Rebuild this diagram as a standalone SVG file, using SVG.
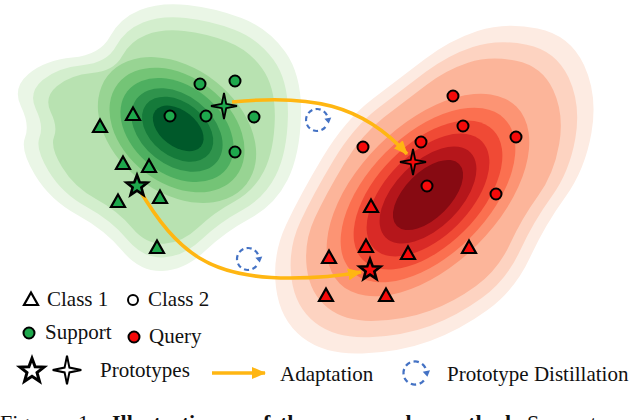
<svg xmlns="http://www.w3.org/2000/svg" xmlns:xlink="http://www.w3.org/1999/xlink" width="640" height="420" viewBox="0 0 640 420">
<style>
.txt{font-family:"Liberation Serif","Times New Roman",serif;font-size:21px;fill:#111}
.cap{font-family:"Liberation Serif","Times New Roman",serif;font-size:22px;fill:#111}
.capb{font-family:"Liberation Serif","Times New Roman",serif;font-size:22px;font-weight:bold;fill:#111}
.tri{stroke:#000;stroke-width:2.2;stroke-linejoin:miter}
.dot{stroke:#000;stroke-width:2}
.g{fill:#1ea84c}
.r{fill:#f50a0a}
.w{fill:#fff}
.star{stroke:#000;stroke-width:2.6;stroke-linejoin:miter}
.spark{stroke:#000;stroke-width:1.8;stroke-linejoin:miter}
.adapt{fill:none;stroke:#FFB612;stroke-width:3.5}
.dist{fill:none;stroke:#4472C4;stroke-width:2.2;stroke-dasharray:5 3.5}
</style>
<defs>
<path id="gA" d="M187.5,5 Q215,8 241.5,18 Q268,28 285,51.5 Q302,75 301,115 Q300,155 287.5,180 Q275,205 250,218.5 Q225,232 205,251 Q185,270 162.5,271 Q140,272 122.5,251 Q105,230 77.5,215 Q50,200 35,175 Q20,150 25,137.5 Q30,125 21,106.5 Q12,88 28.5,74 Q45,60 72.5,57.5 Q100,55 110,36.5 Q120,18 140,10 Q160,2 187.5,5 Z"/>
<path id="rA" d="M537.5,28.5 Q570,35 584,65 Q598,95 591.5,132.5 Q585,170 565,197.5 Q545,225 530,257.5 Q515,290 487.5,310 Q460,330 430,341 Q400,352 362.5,353.5 Q325,355 302.5,337.5 Q280,320 276,287.5 Q272,255 286,225 Q300,195 322.5,157.5 Q345,120 372.5,99 Q400,78 425,59 Q450,40 477.5,31 Q505,22 537.5,28.5 Z"/>
<path id="tri" d="M0,-7.5 L7,5 L-7,5 Z"/>
<path id="star" d="M0,-11 L2.70,-3.72 L10.46,-3.40 L4.37,1.42 L6.47,8.90 L0,4.6 L-6.47,8.90 L-4.37,1.42 L-10.46,-3.40 L-2.70,-3.72 Z"/>
<path id="spark" d="M0,-13 L2.2,-2.2 L13,0 L2.2,2.2 L0,13 L-2.2,2.2 L-13,0 L-2.2,-2.2 Z"/>
<g id="distIcon">
<path class="dist" d="M8.43,7.07 A11,11 0 1 1 10.83,-1.91"/>
<path d="M14.28,-2.52 L11.79,3.51 L7.38,-1.30 Z" fill="#4472C4"/>
</g>
<marker id="ah" markerWidth="14" markerHeight="12" refX="13" refY="6" orient="auto" markerUnits="userSpaceOnUse">
<path d="M0,0 L14,6 L0,12 Z" fill="#FFB612"/>
</marker>
</defs>

<g id="green-density">
<use xlink:href="#gA" fill="#eaf6e6"/>
<use xlink:href="#gA" fill="#d3eecd" transform="translate(17,13.5) scale(.9)"/>
<use xlink:href="#gA" fill="#b8e2b1" transform="translate(34,27) scale(.8)"/>
<g transform="rotate(38 177 130)">
<ellipse cx="177" cy="130" rx="88" ry="62" fill="#98d493"/>
<ellipse cx="177" cy="130" rx="75" ry="53" fill="#74c476"/>
<ellipse cx="177" cy="130" rx="63" ry="44" fill="#4eaf60"/>
<ellipse cx="177" cy="130" rx="51" ry="35" fill="#2f934c"/>
<ellipse cx="177" cy="129" rx="40" ry="27" fill="#157a3a"/>
<ellipse cx="177" cy="128" rx="29" ry="18" fill="#00592a"/>
</g>
</g>

<g id="red-density">
<use xlink:href="#rA" fill="#fdebe2"/>
<use xlink:href="#rA" fill="#fdd3c1" transform="translate(43,19) scale(.9)"/>
<use xlink:href="#rA" fill="#fcb59a" transform="translate(86,38) scale(.8)"/>
<g transform="rotate(-45 428 195)">
<ellipse cx="428" cy="195" rx="125" ry="70" fill="#fc9474"/>
<ellipse cx="428" cy="195" rx="108" ry="60" fill="#fb7050"/>
<ellipse cx="428" cy="195" rx="92" ry="51" fill="#f04a35"/>
<ellipse cx="428" cy="195" rx="76" ry="42" fill="#d92a26"/>
<ellipse cx="428" cy="195" rx="60" ry="33" fill="#b5161b"/>
<ellipse cx="428" cy="195" rx="44" ry="23" fill="#870a12"/>
</g>
</g>

<g id="connectors">
<path id="adapt-sparkle" class="adapt" d="M232,102 C310,94 362,104 407,154" marker-end="url(#ah)"/>
<path id="adapt-star" class="adapt" d="M139,189 C178,255 212,278 290,278 C320,278 340,276 361,272" marker-end="url(#ah)"/>
</g>

<g id="distill-1"><use xlink:href="#distIcon" transform="translate(317,120)"/></g>
<g id="distill-2"><use xlink:href="#distIcon" transform="translate(248,259)"/></g>

<g id="green-class1">
<use xlink:href="#tri" class="tri g" x="100" y="127"/>
<use xlink:href="#tri" class="tri g" x="133" y="115"/>
<use xlink:href="#tri" class="tri g" x="123" y="164"/>
<use xlink:href="#tri" class="tri g" x="149" y="167"/>
<use xlink:href="#tri" class="tri g" x="118" y="202"/>
<use xlink:href="#tri" class="tri g" x="160" y="198"/>
<use xlink:href="#tri" class="tri g" x="157" y="248"/>
</g>
<g id="green-class2">
<circle class="dot g" cx="200" cy="84" r="5.5"/>
<circle class="dot g" cx="235" cy="81" r="5.5"/>
<circle class="dot g" cx="170" cy="116" r="5.5"/>
<circle class="dot g" cx="206" cy="116" r="5.5"/>
<circle class="dot g" cx="254" cy="117" r="5.5"/>
<circle class="dot g" cx="235" cy="152" r="5.5"/>
</g>
<g id="green-prototype-star"><use xlink:href="#star" class="star g" x="137" y="186"/></g>
<g id="green-prototype-sparkle"><use xlink:href="#spark" class="spark g" x="224" y="106"/></g>

<g id="red-class1">
<use xlink:href="#tri" class="tri r" x="371" y="207"/>
<use xlink:href="#tri" class="tri r" x="366" y="247"/>
<use xlink:href="#tri" class="tri r" x="408" y="254"/>
<use xlink:href="#tri" class="tri r" x="469" y="248"/>
<use xlink:href="#tri" class="tri r" x="329" y="258"/>
<use xlink:href="#tri" class="tri r" x="326" y="296"/>
<use xlink:href="#tri" class="tri r" x="386" y="296"/>
</g>
<g id="red-class2">
<circle class="dot r" cx="453" cy="96" r="5.5"/>
<circle class="dot r" cx="463" cy="126" r="5.5"/>
<circle class="dot r" cx="421" cy="142" r="5.5"/>
<circle class="dot r" cx="363" cy="147" r="5.5"/>
<circle class="dot r" cx="516" cy="137" r="5.5"/>
<circle class="dot r" cx="427" cy="186" r="5.5"/>
<circle class="dot r" cx="496" cy="194" r="5.5"/>
</g>
<g id="red-prototype-star"><use xlink:href="#star" class="star r" x="370" y="270"/></g>
<g id="red-prototype-sparkle"><use xlink:href="#spark" class="spark r" x="413" y="162"/></g>

<g id="legend-class1"><use xlink:href="#tri" class="tri w" x="31" y="300"/><text class="txt" x="47" y="306">Class 1</text></g>
<g id="legend-class2"><circle class="dot w" cx="133" cy="300" r="5"/><text class="txt" x="148" y="306">Class 2</text></g>
<g id="legend-support"><circle class="dot g" cx="29" cy="333" r="5.5"/><text class="txt" x="45" y="339">Support</text></g>
<g id="legend-query"><circle class="dot r" cx="134" cy="337" r="5.5"/><text class="txt" x="149" y="343">Query</text></g>
<g id="legend-prototypes">
<use xlink:href="#star" class="star w" transform="translate(32,371) scale(1.15)"/>
<use xlink:href="#spark" class="spark w" transform="translate(67,370) scale(1.1)"/>
<text class="txt" x="100" y="377">Prototypes</text>
</g>
<g id="legend-adaptation">
<path class="adapt" d="M212,373 L265,373" marker-end="url(#ah)"/>
<text class="txt" x="280" y="381">Adaptation</text>
</g>
<g id="legend-distillation">
<use xlink:href="#distIcon" transform="translate(415,373) scale(1.05)"/>
<text class="txt" x="447" y="381">Prototype Distillation</text>
</g>

<g id="caption">
<text class="cap" x="0" y="430">Figure</text>
<text class="cap" x="78" y="430">1:</text>
<text class="capb" x="112" y="430">Illustration</text>
<text class="capb" x="252" y="430">of</text>
<text class="capb" x="280" y="430">the</text>
<text class="capb" x="325" y="430">proposed</text>
<text class="capb" x="440" y="430">method.</text>
<text class="cap" x="527" y="430">Support</text>
<text class="cap" x="614" y="430">and</text>
</g>
</svg>
